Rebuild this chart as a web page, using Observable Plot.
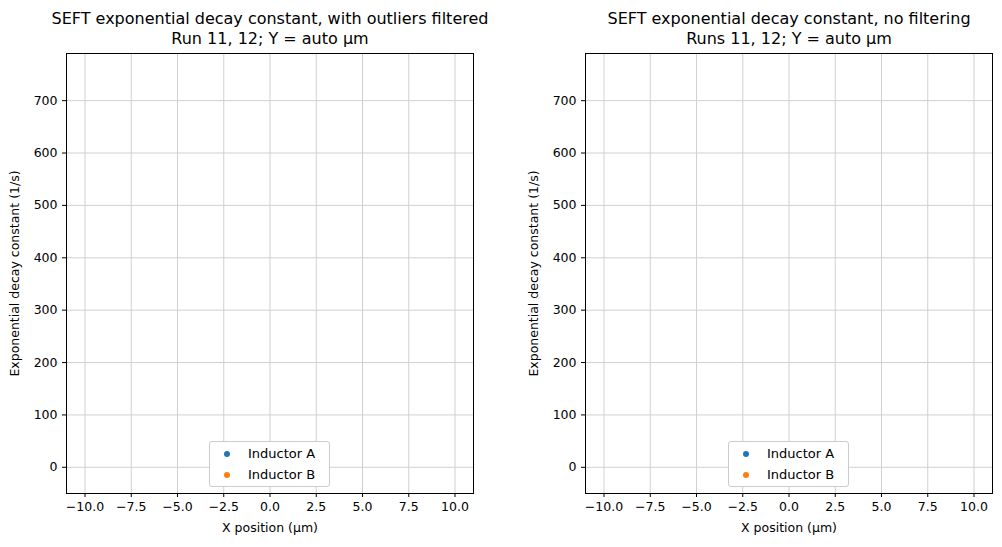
<!DOCTYPE html>
<html><head><meta charset="utf-8">
<script src="https://cdn.jsdelivr.net/npm/d3@7"></script>
<script src="https://cdn.jsdelivr.net/npm/@observablehq/plot@0.6"></script>
<style>
body{margin:0;background:#fff;font-family:"DejaVu Sans",sans-serif;}
#c{position:relative;width:1002px;height:547px;}
.t{position:absolute;text-align:center;font-size:16px;line-height:20px;color:#000;}
.lg{position:absolute;border:1px solid #ccc;border-radius:3px;background:#fff;font-size:13px;padding:1px 8px 1px 6px;line-height:21px;width:105px;}
.lg span.d{display:inline-block;width:6px;height:6px;border-radius:3px;margin:0 18px 1px 8px;vertical-align:middle;}
svg{position:absolute;top:0;}
</style></head><body><div id="c"></div>
<script>
const xTicks=[-10,-7.5,-5,-2.5,0,2.5,5,7.5,10];
const yTicks=[0,100,200,300,400,500,600,700];
const seriesNames=["Inductor A","Inductor B"];
const seriesColors=["#1f77b4","#ff7f0e"];
const filteredA=[], filteredB=[], rawA=[], rawB=[];
const panels=[
 {left:0,title:["SEFT exponential decay constant, with outliers filtered","Run 11, 12; Y = auto µm"],data:[filteredA,filteredB]},
 {left:519,title:["SEFT exponential decay constant, no filtering","Runs 11, 12; Y = auto µm"],data:[rawA,rawB]}
];
const c=document.getElementById("c");
for(const p of panels){
 const pts=p.data.flatMap((arr,i)=>arr.map(d=>({...d,s:seriesNames[i]})));
 const svg=Plot.plot({
  width:483,height:547,marginLeft:66,marginRight:10,marginTop:53,marginBottom:54,
  style:{fontFamily:"DejaVu Sans",fontSize:"12.5px",color:"#000"},
  x:{domain:[-11,11],ticks:xTicks,tickFormat:d=>d.toFixed(1).replace("-","−"),label:"X position (µm)",labelArrow:"none",labelAnchor:"center",labelOffset:38,tickSize:4},
  y:{domain:[-50,790],ticks:yTicks,tickFormat:d=>String(d),label:"Exponential decay constant (1/s)",labelArrow:"none",labelAnchor:"center",labelOffset:56,tickSize:4},
  color:{domain:seriesNames,range:seriesColors},
  marks:[
   Plot.gridX(xTicks,{stroke:"#d0d0d0",strokeOpacity:1}),
   Plot.gridY(yTicks,{stroke:"#d0d0d0",strokeOpacity:1}),
   Plot.dot(pts,{x:"x",y:"y",fill:"s",r:2.5}),
   Plot.frame({stroke:"#000"})
  ]
 });
 svg.style.left=p.left+"px";
 c.appendChild(svg);
 const t=document.createElement("div");t.className="t";
 t.style.left=(p.left+20)+"px";t.style.width="500px";t.style.top="9px";
 t.innerHTML=p.title.join("<br>");c.appendChild(t);
 const lg=document.createElement("div");lg.className="lg";
 lg.style.left=(p.left+209)+"px";lg.style.top="441px";
 lg.innerHTML=seriesNames.map((n,i)=>`<div><span class="d" style="background:${seriesColors[i]}"></span>${n}</div>`).join("");
 c.appendChild(lg);
}
</script></body></html>
